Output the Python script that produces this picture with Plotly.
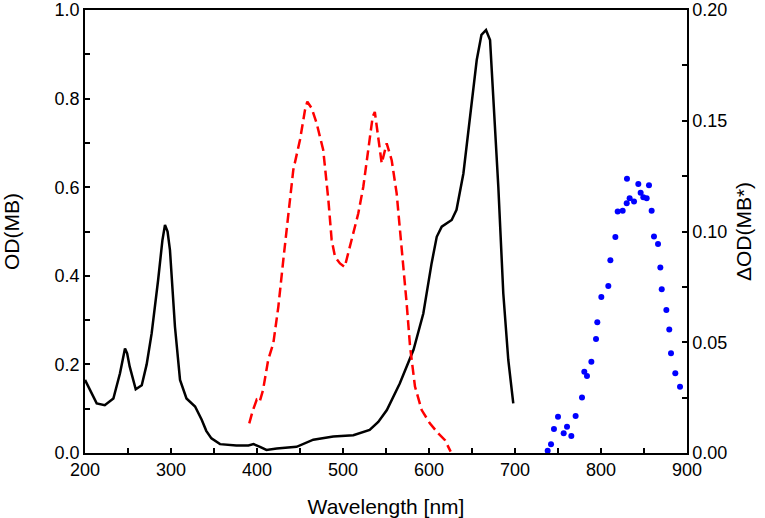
import plotly.graph_objects as go

# Ground-state absorption of MB (left axis)
black_wl = [200, 206, 213.6, 223, 233, 240.7, 246.5, 249, 252, 259, 266, 271.7, 277.5, 285, 290, 293,
            296, 298.8, 304.6, 310.5, 318, 328, 335.7, 341, 347, 357, 376, 390, 396, 403.5, 411, 423,
            446, 465.5, 488.7, 512, 531, 541, 551, 566, 582, 593.4, 603, 609, 614.8, 626.4, 632, 640,
            647.7, 655.5, 661, 666.3, 671, 675, 680.6, 686.4, 692.2, 698]
black_od = [0.165, 0.14, 0.112, 0.108, 0.123, 0.18, 0.236, 0.225, 0.195, 0.144, 0.153, 0.2, 0.27, 0.39,
            0.48, 0.515, 0.50, 0.458, 0.285, 0.165, 0.123, 0.105, 0.075, 0.05, 0.033, 0.02, 0.017, 0.017,
            0.02, 0.014, 0.007, 0.01, 0.014, 0.03, 0.037, 0.04, 0.052, 0.07, 0.097, 0.157, 0.233, 0.315,
            0.428, 0.488, 0.511, 0.526, 0.549, 0.631, 0.752, 0.887, 0.944, 0.955, 0.932, 0.789, 0.601,
            0.36, 0.21, 0.112]

# Red dashed spectrum (left axis)
red_wl = [391, 395, 399.6, 403, 407, 413, 419, 424.8, 430.6, 436.4, 442.2, 450, 455.8, 458.5, 463.6,
          469.4, 477, 483, 486.8, 490.7, 496.5, 502, 508, 512, 517.8, 523.6, 529.4, 534.5, 537, 541,
          545, 550.8, 556.6, 562.4, 566, 570, 574, 578, 583.7, 591.5, 601, 610.8, 618.6, 625.2]
red_od = [0.067, 0.095, 0.12, 0.115, 0.142, 0.21, 0.248, 0.33, 0.436, 0.533, 0.639, 0.707, 0.774, 0.793,
          0.778, 0.744, 0.684, 0.571, 0.481, 0.443, 0.428, 0.42, 0.466, 0.503, 0.541, 0.601, 0.684,
          0.759, 0.77, 0.707, 0.654, 0.699, 0.661, 0.586, 0.511, 0.42, 0.338, 0.24, 0.15, 0.097, 0.067,
          0.044, 0.029, 0.003]

# Blue dots, transient absorption of MB* (right axis)
blue_wl = [738, 741.9, 745.3, 750, 756.6, 760.5, 765.5, 770.5, 777.9, 780.6, 783.7, 788.8, 794.2, 795.7,
           800.4, 808.5, 810.9, 816.7, 819.4, 825.2, 829.9, 830.2, 833.3, 838.4, 843.4, 846.1, 849.2,
           853.1, 855.8, 858.9, 861.6, 866.3, 869, 870.6, 876, 879.4, 881.4, 886.4, 891.9]
blue_dod = [0.001, 0.004, 0.0108, 0.0164, 0.0089, 0.0119, 0.0077, 0.0167, 0.0251, 0.0367, 0.0348, 0.0412,
            0.0515, 0.059, 0.0704, 0.0754, 0.087, 0.0975, 0.109, 0.1094, 0.1127, 0.1238, 0.115, 0.1135,
            0.1215, 0.1175, 0.1155, 0.115, 0.1209, 0.1094, 0.0977, 0.0944, 0.0838, 0.0739, 0.0646,
            0.0558, 0.045, 0.036, 0.0299]

FONT = "Liberation Sans, Arial, sans-serif"

fig = go.Figure()
fig.add_trace(go.Scatter(x=black_wl, y=black_od, mode="lines",
                         line=dict(color="black", width=2.5), showlegend=False))
fig.add_trace(go.Scatter(x=red_wl, y=red_od, mode="lines",
                         line=dict(color="#ff0000", width=2.5, dash="10px,5px"), showlegend=False))
fig.add_trace(go.Scatter(x=blue_wl, y=blue_dod, mode="markers", yaxis="y2",
                         marker=dict(color="#0000ff", size=6), showlegend=False))

axis_common = dict(showgrid=False, zeroline=False, showline=True, linecolor="black", linewidth=1.5,
                   ticks="inside", ticklen=5, tickwidth=1.5, tickcolor="black", automargin=False,
                   tickfont=dict(family=FONT, size=18, color="black"))
minor_common = dict(ticks="inside", ticklen=5, tickwidth=1.5, tickcolor="black")

fig.update_layout(
    width=765, height=518,
    margin=dict(l=85, r=78, t=10, b=65, autoexpand=False),
    paper_bgcolor="white", plot_bgcolor="white",
    font=dict(family=FONT, color="black"),
    xaxis=dict(range=[200, 900], dtick=100, tick0=200, mirror=True,
               minor=dict(dtick=50, **minor_common),
               title=dict(text="Wavelength [nm]", font=dict(family=FONT, size=21), standoff=20),
               **axis_common),
    yaxis=dict(range=[0, 1], dtick=0.2, tickformat=".1f",
               minor=dict(dtick=0.1, **minor_common),
               title=dict(text="OD(MB)", font=dict(family=FONT, size=21), standoff=31),
               **axis_common),
    yaxis2=dict(range=[0, 0.2], dtick=0.05, tickformat=".2f", overlaying="y", side="right",
                minor=dict(dtick=0.025, **minor_common),
                title=dict(text="ΔOD(MB*)", font=dict(family=FONT, size=21), standoff=10),
                **axis_common),
)

fig.write_html("out.html", config={"displayModeBar": False},
               post_script="document.body.style.margin='0';document.body.style.overflow='hidden';")
